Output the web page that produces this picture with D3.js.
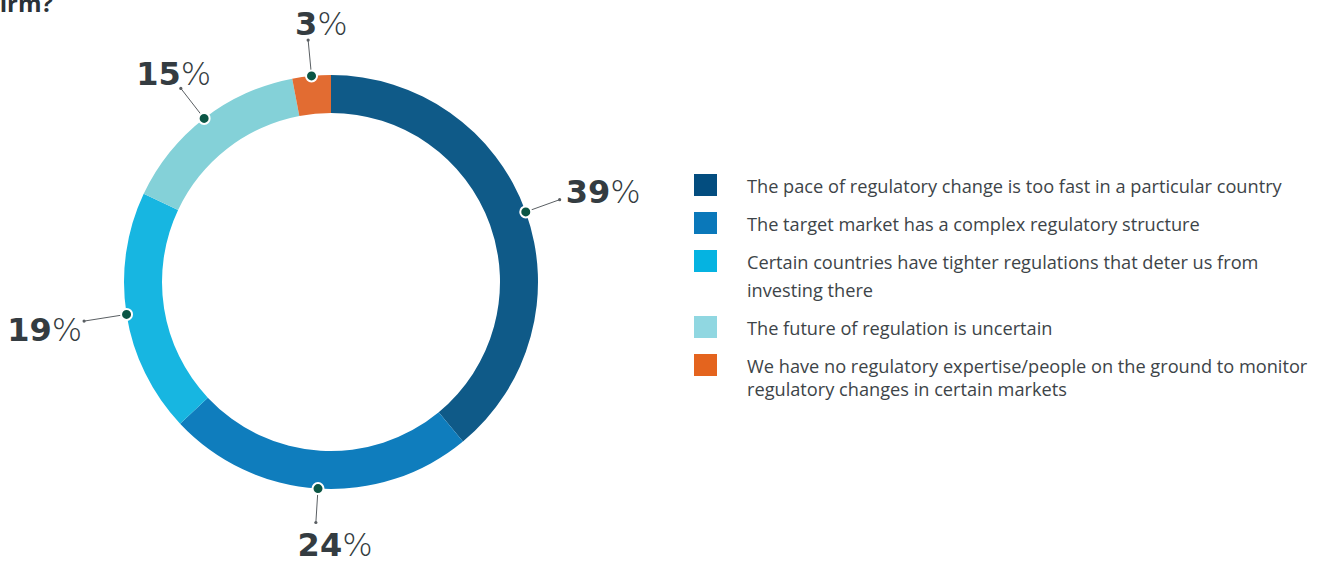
<!DOCTYPE html>
<html>
<head>
<meta charset="utf-8">
<script src="https://cdn.jsdelivr.net/npm/d3@7"></script>
<style>
  body { margin: 0; background: #fff; }
  svg { display: block; }
</style>
</head>
<body>
<svg id="chart" width="1331" height="563"></svg>
<script>
const categories = [
    "The pace of regulatory change is too fast in a particular country",
    "The target market has a complex regulatory structure",
    "Certain countries have tighter regulations that deter us from investing there",
    "The future of regulation is uncertain",
    "We have no regulatory expertise/people on the ground to monitor regulatory changes in certain markets"
];
const values = [39, 24, 19, 15, 3];
const legendLines = [
    ["The pace of regulatory change is too fast in a particular country"],
    ["The target market has a complex regulatory structure"],
    ["Certain countries have tighter regulations that deter us from", "investing there"],
    ["The future of regulation is uncertain"],
    ["We have no regulatory expertise/people on the ground to monitor", "regulatory changes in certain markets"]
];
const sliceColors = ["#0f5a88", "#0f7dbd", "#17b6e1", "#84d1d8", "#e26c32"];
const legendColors = ["#034d7f", "#0a78ba", "#05b3e1", "#90d7e1", "#e4641e"];

// label placement around the ring (relative to the end of each leader line)
const labelPlace = [
    { anchor: "start", shift: 0,   dx: 6,  dy: 3,  len: 243 },
    { anchor: "start", shift: 0.5, dx: 4,  dy: 33, len: 241 },
    { anchor: "end",   shift: 0,   dx: -2, dy: 20, len: 250 },
    { anchor: "start", shift: 1,   dx: 0,  dy: -3, len: 245 },
    { anchor: "start", shift: 0.5, dx: -2, dy: -5, len: 243 }
];

const svg = d3.select("#chart");

const cx = 331, cy = 282;
const outerR = 207, innerR = 169;

// cut-off question title at the top left
svg.append("text")
    .attr("x", 53)
    .attr("y", 12)
    .attr("text-anchor", "end")
    .attr("font-family", "'Open Sans', sans-serif")
    .attr("font-weight", "bold")
    .attr("font-size", "24px")
    .attr("fill", "#2b3238")
    .text("firm?");

const data = categories.map((c, i) => ({ name: c, value: values[i], i: i }));

const pie = d3.pie().sort(null).value(d => d.value);
const arcs = pie(data);

const arc = d3.arc().innerRadius(innerR).outerRadius(outerR);

const g = svg.append("g").attr("transform", `translate(${cx},${cy})`);

g.selectAll(".slice")
    .data(arcs)
    .enter()
    .append("path")
    .attr("class", "slice")
    .attr("d", arc)
    .attr("fill", d => sliceColors[d.data.i]);

const pt = (a, r) => [Math.sin(a) * r, -Math.cos(a) * r];

// leader lines
arcs.forEach(d => {
    const p = labelPlace[d.data.i];
    const mid = (d.startAngle + d.endAngle) / 2;
    const a = pt(mid, outerR);
    const b = pt(mid, p.len);

    g.append("line")
        .attr("x1", a[0]).attr("y1", a[1])
        .attr("x2", b[0]).attr("y2", b[1])
        .attr("stroke", "#5a5f63")
        .attr("stroke-width", 1);

    g.append("circle")
        .attr("cx", b[0]).attr("cy", b[1])
        .attr("r", 1.6)
        .attr("fill", "#5a5f63");

    g.append("circle")
        .attr("cx", a[0]).attr("cy", a[1])
        .attr("r", 5.5)
        .attr("fill", "#0b5645")
        .attr("stroke", "#fff")
        .attr("stroke-width", 2);

    const label = g.append("text")
        .attr("text-anchor", p.anchor)
        .attr("font-size", "32px")
        .attr("fill", "#343c41");
    const num = label.append("tspan")
        .attr("font-family", "'DejaVu Sans', sans-serif")
        .attr("font-weight", "bold")
        .text(d.data.value);
    label.append("tspan")
        .attr("font-family", "'DejaVu Sans', sans-serif")
        .attr("font-weight", "200")
        .text("%");

    const nw = num.node().getComputedTextLength();
    label.attr("x", b[0] + p.dx - p.shift * nw)
        .attr("y", b[1] + p.dy);
});

// legend
const legend = svg.append("g").attr("transform", "translate(694,174)");
const lineH = [0, 0, 28, 0, 23];
let itemTop = 0;
legendLines.forEach((lines, i) => {
    const item = legend.append("g").attr("transform", `translate(0,${itemTop})`);
    item.append("rect")
        .attr("width", 23)
        .attr("height", 22)
        .attr("fill", legendColors[i]);
    const t = item.append("text")
        .attr("x", 53)
        .attr("y", 19)
        .attr("font-family", "'Open Sans', sans-serif")
        .attr("font-size", "18.2px")
        .attr("fill", "#3d4448");
    lines.forEach((l, j) => {
        t.append("tspan")
            .attr("x", 53)
            .attr("dy", j === 0 ? 0 : lineH[i])
            .text(l);
    });
    itemTop += 38 + (lines.length - 1) * lineH[i];
});
</script>
</body>
</html>
